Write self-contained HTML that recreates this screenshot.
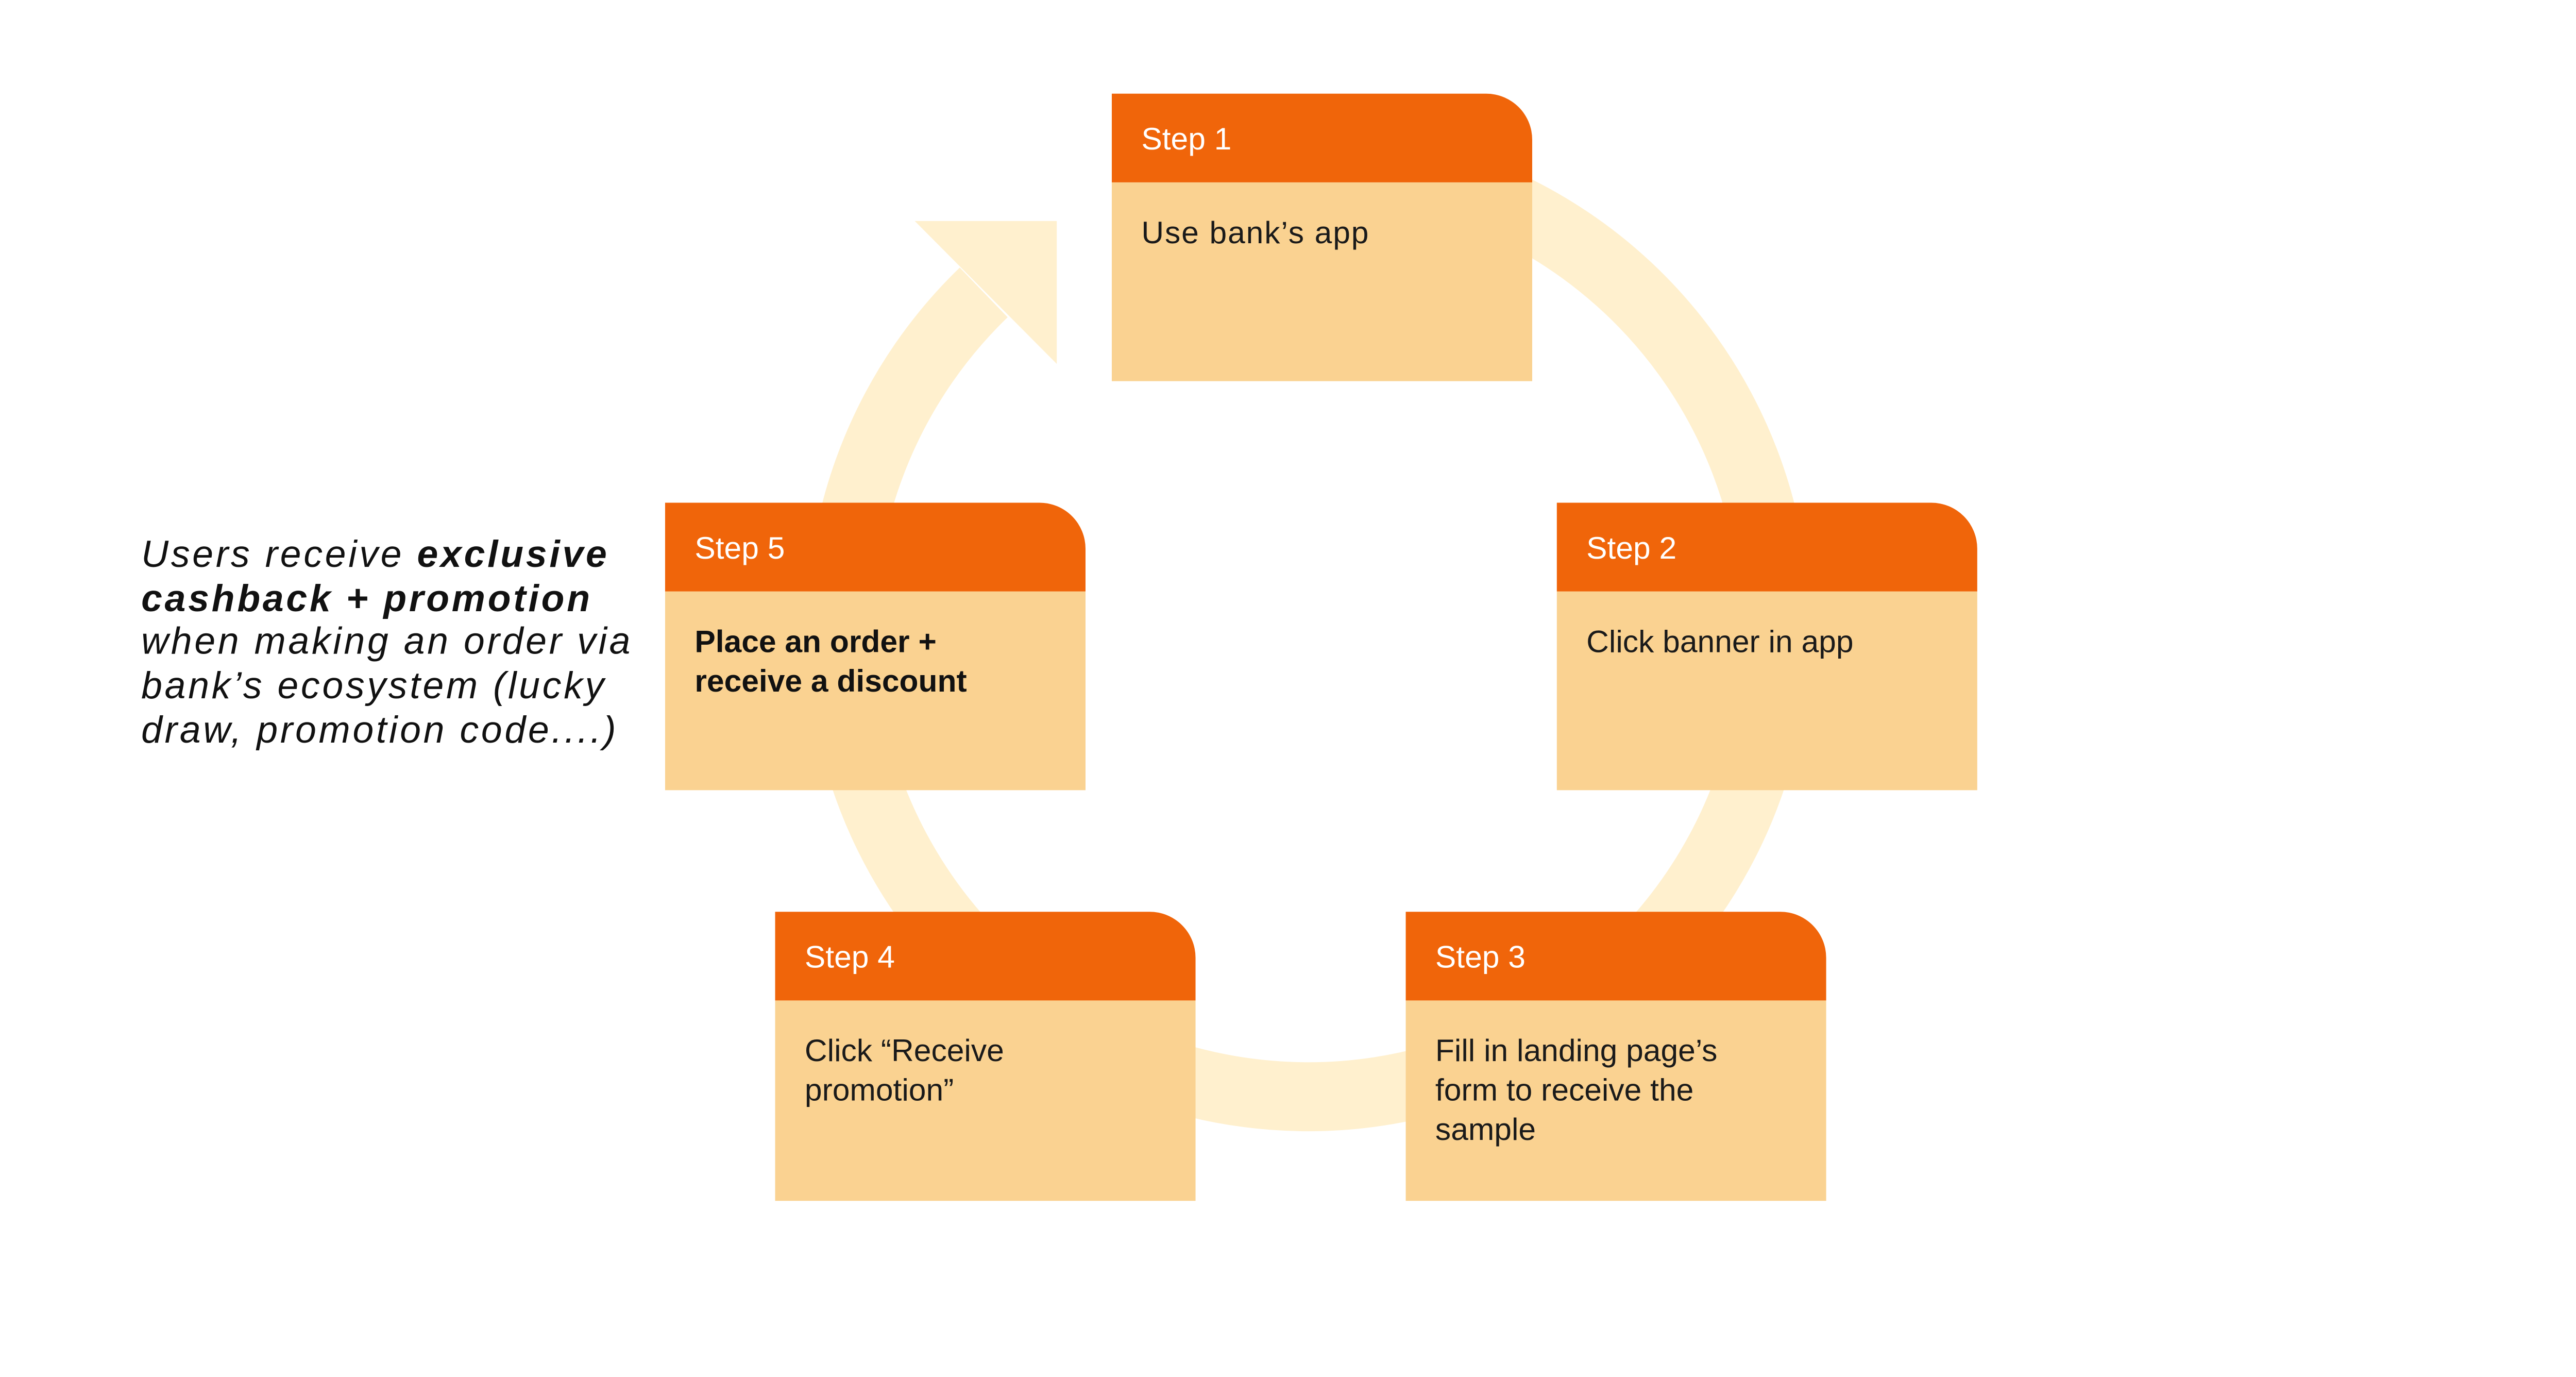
<!DOCTYPE html>
<html><head><meta charset="utf-8"><style>
html,body{margin:0;padding:0;background:#fff;width:5248px;height:2672px;overflow:hidden;}
svg{display:block;}
text{font-family:"Liberation Sans",sans-serif;}
</style></head><body>
<svg width="5248" height="2672" viewBox="0 0 1646.4 838.2" xmlns="http://www.w3.org/2000/svg">
<rect width="1646.4" height="838.2" fill="#fff"/>
<path d="M892.4 114.8 A284.7 284.7 0 1 1 599 178" fill="none" stroke="#FFF0CE" stroke-width="42"/>
<polygon points="557,134.5 643.5,134.5 643.5,221.5" fill="#FFF0CE"/>
<g id="boxes">
<rect x="677" y="111" width="256" height="121" fill="#FAD291"/>
<path d="M677 57 H905 A28 28 0 0 1 933 85 V111 H677 Z" fill="#F0650A"/>
<text x="695" y="91" font-size="19" fill="#fff">Step 1</text>
<text x="695" y="148" font-size="19" fill="#1a1a1a" letter-spacing="0.6">Use bank’s app</text>
<rect x="948" y="360" width="256" height="121" fill="#FAD291"/>
<path d="M948 306 H1176 A28 28 0 0 1 1204 334 V360 H948 Z" fill="#F0650A"/>
<text x="966" y="340" font-size="19" fill="#fff">Step 2</text>
<text x="966" y="397" font-size="19" fill="#1a1a1a">Click banner in app</text>
<rect x="856" y="609" width="256" height="122" fill="#FAD291"/>
<path d="M856 555 H1084 A28 28 0 0 1 1112 583 V609 H856 Z" fill="#F0650A"/>
<text x="874" y="589" font-size="19" fill="#fff">Step 3</text>
<text font-size="19" fill="#1a1a1a"><tspan x="874" y="646">Fill in landing page’s</tspan><tspan x="874" y="670">form to receive the</tspan><tspan x="874" y="694">sample</tspan></text>
<rect x="472" y="609" width="256" height="122" fill="#FAD291"/>
<path d="M472 555 H700 A28 28 0 0 1 728 583 V609 H472 Z" fill="#F0650A"/>
<text x="490" y="589" font-size="19" fill="#fff">Step 4</text>
<text font-size="19" fill="#1a1a1a"><tspan x="490" y="646">Click “Receive</tspan><tspan x="490" y="670">promotion”</tspan></text>
<rect x="405" y="360" width="256" height="121" fill="#FAD291"/>
<path d="M405 306 H633 A28 28 0 0 1 661 334 V360 H405 Z" fill="#F0650A"/>
<text x="423" y="340" font-size="19" fill="#fff">Step 5</text>
<text font-size="19" font-weight="bold" fill="#111"><tspan x="423" y="397">Place an order +</tspan><tspan x="423" y="421">receive a discount</tspan></text>
</g>
<text font-size="23" font-style="italic" fill="#111" letter-spacing="1.5">
<tspan x="86" y="345">Users receive <tspan font-weight="bold">exclusive</tspan></tspan>
<tspan x="86" y="372" font-weight="bold">cashback + promotion</tspan>
<tspan x="86" y="398">when making an order via</tspan>
<tspan x="86" y="425">bank’s ecosystem (lucky</tspan>
<tspan x="86" y="452">draw, promotion code....)</tspan>
</text>
</svg>
</body></html>
